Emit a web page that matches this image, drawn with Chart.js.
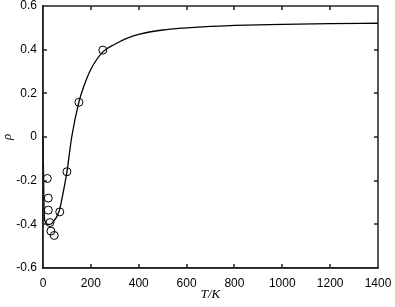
<!DOCTYPE html>
<html><head><meta charset="utf-8">
<script src="https://cdn.jsdelivr.net/npm/chart.js@4/dist/chart.umd.min.js"></script>
<style>html,body{margin:0;padding:0;background:#fff;overflow:hidden}#w{width:395px;height:307px;position:relative}</style>
</head><body><div id="w"><canvas id="c"></canvas></div>
<script>
// Fitted curve
const curveT   = [0, 2, 4, 6, 10, 20, 30, 45, 60, 70, 85, 100, 120, 150, 170, 200, 250, 300, 350, 400, 500, 600, 700, 800, 900, 1000, 1200, 1400];
const curveRho = [0.0, -0.15, -0.30, -0.37, -0.39, -0.40, -0.40, -0.385, -0.36, -0.33, -0.25, -0.16, 0.0, 0.16, 0.23, 0.31, 0.39, 0.425, 0.452, 0.47, 0.49, 0.50, 0.507, 0.511, 0.514, 0.516, 0.519, 0.521];
// Measured points
const pointT   = [18, 22, 22, 29, 33, 47, 70, 100, 150, 250];
const pointRho = [-0.19, -0.28, -0.335, -0.392, -0.431, -0.451, -0.343, -0.159, 0.159, 0.398];
const xTicks = [0, 200, 400, 600, 800, 1000, 1200, 1400];
const yTicks = [-0.6, -0.4, -0.2, 0, 0.2, 0.4, 0.6];

const framePlugin = {
  id: 'frameTicks',
  afterDraw(chart) {
    const ctx = chart.ctx, a = chart.chartArea, sx = chart.scales.x, sy = chart.scales.y;
    ctx.save();
    ctx.strokeStyle = '#222';
    ctx.lineWidth = 1.5;
    ctx.beginPath();
    ctx.moveTo(a.left, a.top); ctx.lineTo(a.right, a.top); ctx.lineTo(a.right, a.bottom);
    ctx.lineTo(a.left, a.bottom); ctx.closePath();
    const L = 4;
    xTicks.forEach(v => {
      const px = Math.round(sx.getPixelForValue(v));
      ctx.moveTo(px, a.bottom); ctx.lineTo(px, a.bottom - L);
      ctx.moveTo(px, a.top); ctx.lineTo(px, a.top + L);
    });
    yTicks.forEach(v => {
      const py = Math.round(sy.getPixelForValue(v));
      ctx.moveTo(a.left, py); ctx.lineTo(a.left + L, py);
      ctx.moveTo(a.right, py); ctx.lineTo(a.right - L, py);
    });
    ctx.stroke();
    ctx.restore();
  }
};

const fmt = v => (Math.abs(v) < 1e-9 ? '0' : String(Math.round(v * 10) / 10));

new Chart(document.getElementById('c'), {
  type: 'scatter',
  data: {
    datasets: [
      {
        type: 'line',
        data: curveT.map((t, i) => ({x: t, y: curveRho[i]})),
        borderColor: '#000', borderWidth: 1.3, pointRadius: 0,
        cubicInterpolationMode: 'monotone', fill: false, clip: 3
      },
      {
        data: pointT.map((t, i) => ({x: t, y: pointRho[i]})),
        pointRadius: 4, pointBorderWidth: 1, borderColor: '#000',
        pointBackgroundColor: 'rgba(255,255,255,0)', pointBorderColor: '#000'
      }
    ]
  },
  options: {
    responsive: true, maintainAspectRatio: false, animation: false,
    layout: {padding: 0},
    plugins: {legend: {display: false}, tooltip: {enabled: false}},
    scales: {
      x: {
        type: 'linear', min: 0, max: 1400,
        afterBuildTicks: s => { s.ticks = xTicks.map(v => ({value: v})); },
        grid: {display: false, drawTicks: false},
        border: {display: true, color: '#222', width: 1.5},
        ticks: {color: '#000', padding: 8, maxRotation: 0, callback: v => String(v),
                font: {family: 'Liberation Sans, Arial', size: 12}},
        title: {display: true, text: 'T/K', color: '#000', padding: {top: 0, bottom: 5},
                font: {family: 'Liberation Serif, Times New Roman', size: 13, style: 'italic'}},
        afterFit: s => { s.height = 39; s.paddingLeft = 0; s.paddingRight = 17; }
      },
      y: {
        type: 'linear', min: -0.6, max: 0.6,
        afterBuildTicks: s => { s.ticks = yTicks.map(v => ({value: v})); },
        grid: {display: false, drawTicks: false},
        border: {display: true, color: '#222', width: 1.5},
        ticks: {color: '#000', padding: 6, callback: fmt,
                font: {family: 'Liberation Sans, Arial', size: 12}},
        title: {display: true, text: 'ρ', color: '#000', padding: {top: 0, bottom: 0},
                font: {family: 'Liberation Serif, Times New Roman', size: 13, style: 'italic'}},
        afterFit: s => { s.width = 43; s.paddingTop = 6; s.paddingBottom = 0; }
      }
    }
  },
  plugins: [framePlugin]
});
</script>
</body></html>
